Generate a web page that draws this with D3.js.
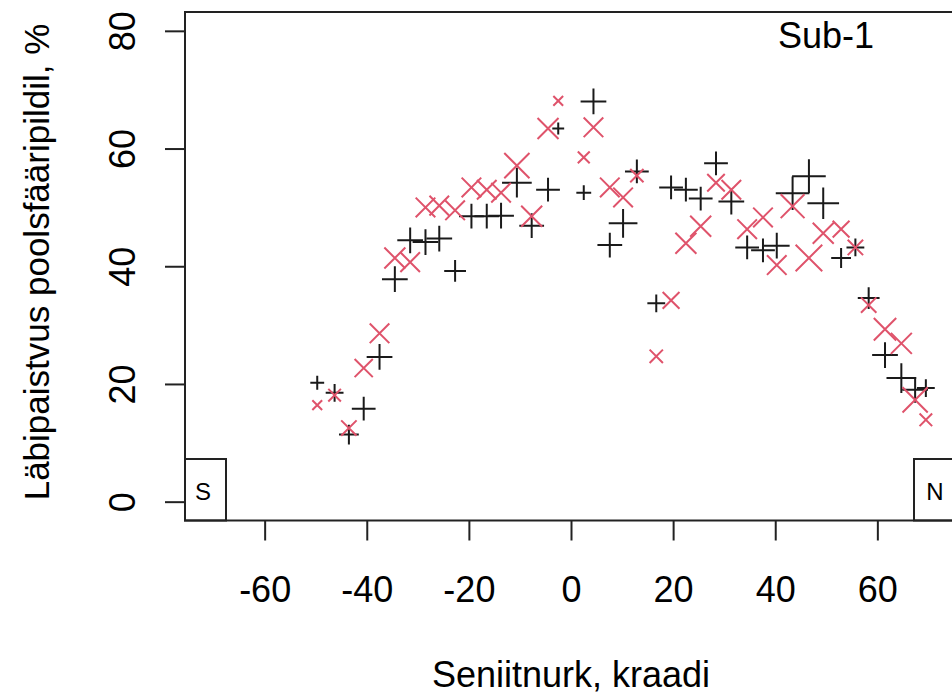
<!DOCTYPE html>
<html>
<head>
<meta charset="utf-8">
<script src="https://cdn.jsdelivr.net/npm/d3@7"></script>
<style>
  body { margin: 0; background: #fff; }
  svg text { font-family: "Liberation Sans", Arial, sans-serif; fill: #000; }
</style>
</head>
<body>
<div id="chart"></div>
<script>
// zenith angle (degrees) of each sector, shared by both series
const angle = [-49.7, -46.3, -43.5, -40.6, -37.5, -34.5, -31.5, -28.5, -25.8, -22.7,
    -19.5, -16.5, -13.7, -10.6, -7.7, -4.5, -2.5, 2.5, 4.4, 7.6,
    10.2, 12.9, 16.7, 19.6, 22.5, 25.4, 28.4, 31.4, 34.5, 37.6,
    40.3, 43.4, 46.6, 49.4, 52.9, 55.7, 58.3, 61.5, 64.7, 67.4, 69.5];

// black "+" series
const plusValues = [20.2, 18.5, 11.4, 15.8, 24.6, 37.8, 44.4, 44.1, 44.7, 39.2,
    48.5, 48.5, 48.6, 54.2, 46.9, 53.0, 63.4, 52.5, 68.0, 43.6,
    47.3, 56.1, 33.7, 53.4, 53.0, 51.5, 57.5, 51.0, 43.2, 42.7,
    43.5, 52.4, 55.3, 50.7, 41.4, 43.2, 34.6, 24.9, 21.0, 19.0, 19.3];
const plusWeight = [0.7, 0.9, 1.0, 1.2, 1.3, 1.3, 1.3, 1.3, 1.3, 1.1,
    1.25, 1.25, 1.3, 1.5, 1.25, 1.2, 0.6, 0.75, 1.3, 1.25,
    1.45, 1.2, 0.9, 1.2, 1.2, 1.2, 1.2, 1.3, 1.2, 1.2,
    1.3, 1.7, 1.7, 1.6, 1.0, 0.9, 1.1, 1.3, 1.5, 1.3, 0.9];

// red "x" series
const crossValues = [16.4, 18.1, 12.5, 22.7, 28.6, 41.4, 40.7, 50.0, 50.3, 49.5,
    53.4, 53.0, 52.5, 57.1, 48.5, 63.4, 68.1, 58.5, 63.6, 53.4,
    51.7, 55.4, 24.7, 34.2, 43.9, 46.8, 54.2, 53.0, 46.3, 48.3,
    40.2, 50.2, 41.4, 45.6, 46.3, 43.2, 33.4, 29.3, 26.9, 17.3, 13.9];
const crossWeight = [0.7, 0.9, 1.1, 1.3, 1.4, 1.5, 1.4, 1.4, 1.4, 1.4,
    1.4, 1.4, 1.4, 1.8, 1.5, 1.5, 0.7, 0.85, 1.4, 1.4,
    1.4, 0.95, 0.95, 1.2, 1.5, 1.5, 1.25, 1.4, 1.4, 1.4,
    1.4, 1.7, 1.9, 1.5, 1.2, 1.1, 1.1, 1.6, 1.5, 1.8, 0.9];

const xTicks = [-60, -40, -20, 0, 20, 40, 60];
const yTicks = [0, 20, 40, 60, 80];

const width = 952;
const height = 694;
const fontSize = 36;

const svg = d3.select('#chart')
    .append('svg')
    .attr('width', width)
    .attr('height', height);

// R style 4% padding around xlim = c(-70, 70), ylim = c(0, 80)
const x = d3.scaleLinear().domain([-75.6, 75.6]).range([185, 957]);
const y = d3.scaleLinear().domain([-3.2, 83.2]).range([520.5, 12]);
const size = d3.scaleLinear().domain([0, 1]).range([0, 7]);

const plotLeft = x.range()[0], plotRight = x.range()[1];
const plotTop = y.range()[1], plotBottom = y.range()[0];

// x axis (plain hyphen for negatives, like R)
const xAxis = svg.append('g')
    .attr('transform', `translate(0,${plotBottom})`)
    .call(d3.axisBottom(x).tickValues(xTicks).tickFormat(d => String(d))
        .tickSize(20).tickPadding(36).tickSizeOuter(0));
xAxis.select('.domain').remove();
xAxis.selectAll('line').attr('stroke', '#222').attr('stroke-width', 2);
xAxis.selectAll('text').attr('font-size', fontSize).style('font-family', '"Liberation Sans", Arial, sans-serif');

// y axis, labels parallel to the axis
const yAxis = svg.append('g')
    .attr('transform', `translate(${plotLeft},0)`)
    .call(d3.axisLeft(y).tickValues(yTicks).tickFormat(d => String(d))
        .tickSize(20).tickSizeOuter(0));
yAxis.select('.domain').remove();
yAxis.selectAll('line').attr('stroke', '#222').attr('stroke-width', 2);
yAxis.selectAll('text')
    .attr('x', null)
    .attr('dy', null)
    .attr('text-anchor', 'middle')
    .attr('font-size', fontSize)
    .style('font-family', '"Liberation Sans", Arial, sans-serif')
    .attr('transform', 'translate(-50,0) rotate(-90)');

// plot box
svg.append('rect')
    .attr('x', plotLeft)
    .attr('y', plotTop)
    .attr('width', plotRight - plotLeft)
    .attr('height', plotBottom - plotTop)
    .attr('fill', 'none')
    .attr('stroke', '#222')
    .attr('stroke-width', 2);

// S / N corner boxes
const corner = svg.append('g');
corner.append('rect')
    .attr('x', plotLeft).attr('y', 459)
    .attr('width', 41).attr('height', plotBottom - 459)
    .attr('fill', 'none').attr('stroke', '#222').attr('stroke-width', 2);
corner.append('text')
    .attr('x', plotLeft + 18).attr('y', 500)
    .attr('text-anchor', 'middle').attr('font-size', 24)
    .text('S');
corner.append('rect')
    .attr('x', 914).attr('y', 459)
    .attr('width', plotRight - 914).attr('height', plotBottom - 459)
    .attr('fill', 'none').attr('stroke', '#222').attr('stroke-width', 2);
corner.append('text')
    .attr('x', 935).attr('y', 500)
    .attr('text-anchor', 'middle').attr('font-size', 24)
    .text('N');

// "+" points
const plusData = angle.map((a, i) => ({ a: a, v: plusValues[i], w: plusWeight[i] }));
svg.append('g')
    .selectAll('path')
    .data(plusData)
    .enter().append('path')
    .attr('d', d => {
        const cx = x(d.a), cy = y(d.v), r = size(d.w) * Math.SQRT2;
        return `M${cx - r},${cy}H${cx + r}M${cx},${cy - r}V${cy + r}`;
    })
    .attr('stroke', '#1a1a1a')
    .attr('stroke-width', 2)
    .attr('fill', 'none');

// "x" points
const crossData = angle.map((a, i) => ({ a: a, v: crossValues[i], w: crossWeight[i] }));
svg.append('g')
    .selectAll('path')
    .data(crossData)
    .enter().append('path')
    .attr('d', d => {
        const cx = x(d.a), cy = y(d.v), r = size(d.w);
        return `M${cx - r},${cy - r}L${cx + r},${cy + r}M${cx - r},${cy + r}L${cx + r},${cy - r}`;
    })
    .attr('stroke', '#DF536B')
    .attr('stroke-width', 2)
    .attr('fill', 'none');

// titles
svg.append('text')
    .attr('x', 826).attr('y', 48)
    .attr('text-anchor', 'middle')
    .attr('font-size', fontSize)
    .text('Sub-1');

svg.append('text')
    .attr('x', x(0))
    .attr('y', 687)
    .attr('text-anchor', 'middle')
    .attr('font-size', fontSize)
    .text('Seniitnurk, kraadi');

svg.append('text')
    .attr('transform', `translate(49,262) rotate(-90)`)
    .attr('text-anchor', 'middle')
    .attr('font-size', 35)
    .text('Läbipaistvus poolsfääripildil, %');
</script>
</body>
</html>
